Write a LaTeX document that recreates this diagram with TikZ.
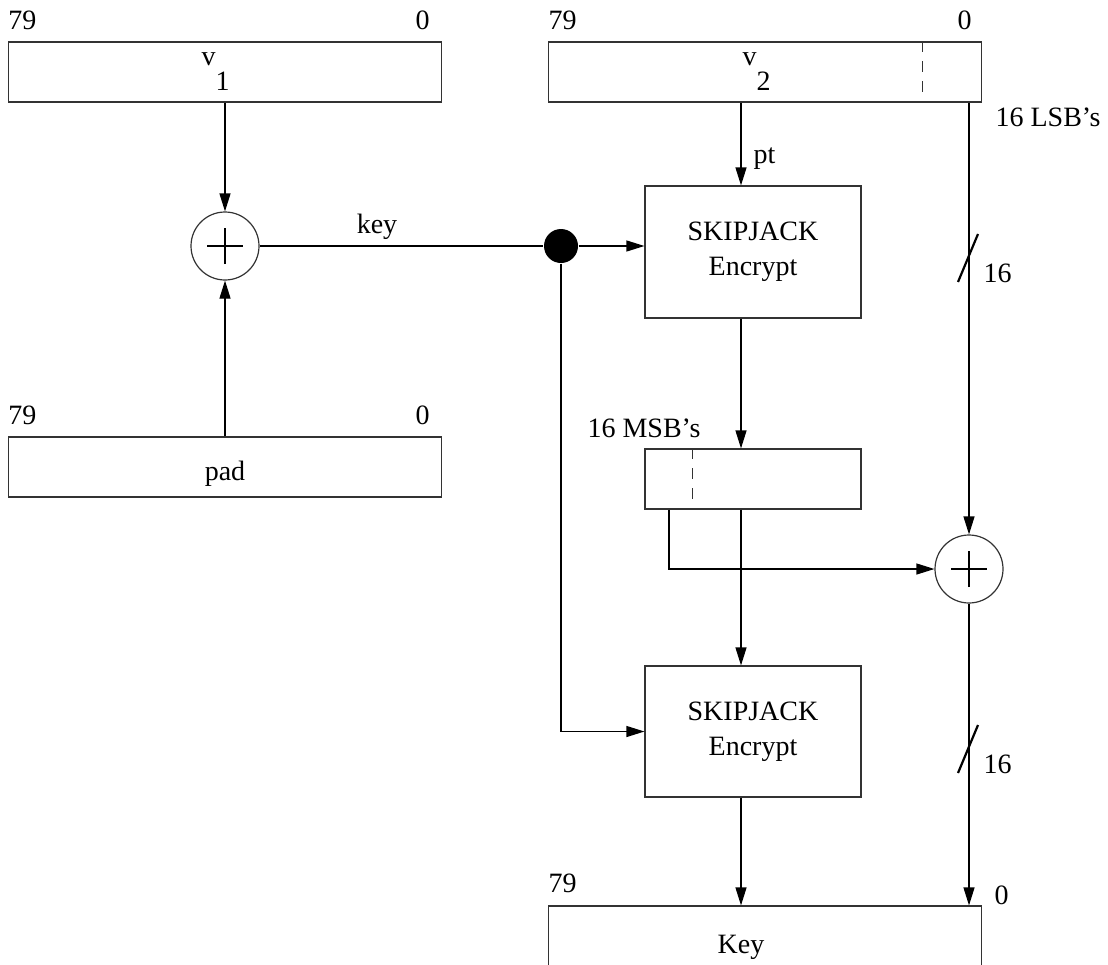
\documentclass[tikz,border=0pt]{standalone}
\usepackage{fontspec}
\setmainfont{Liberation Serif}
\usetikzlibrary{arrows.meta,positioning}

\begin{document}
\begin{tikzpicture}[
  x=1pt, y=-1pt,
  font=\fontsize{28}{35}\selectfont,
  line width=1.2pt,
  reg/.style={draw=black!80, minimum width=433pt, minimum height=60pt,
              inner sep=0pt},
  cipher/.style={draw=black!80, minimum width=216pt, minimum height=132pt,
                 align=center, inner sep=0pt},
  xorgate/.style={draw=black!80, circle, minimum size=68pt, inner sep=0pt,
                  path picture={
                    \draw[line width=2.8pt, black]
                      ([xshift=-18pt]path picture bounding box.center) --
                      ([xshift=18pt]path picture bounding box.center)
                      ([yshift=-18pt]path picture bounding box.center) --
                      ([yshift=18pt]path picture bounding box.center);}},
  bitnum/.style={inner sep=0pt},
  split/.style={draw=black!80, dash pattern=on 11pt off 9pt},
  slash/.style={draw=black, line width=2.2pt},
  >={Triangle[length=18pt,width=11pt]}
]
\useasboundingbox (0,0) rectangle (1108,964);
\clip (0,0) rectangle (1108,964);

%% --- registers ---
\node[reg] (v1) at (225,72) {};
\node[anchor=base west, inner sep=0pt] (v1txt) at (201,65) {v\raisebox{-25pt}{1}};
\node[bitnum, anchor=base west] (v1hi) at ([yshift=12pt]v1.north west) {79};
\node[bitnum, anchor=base east] (v1lo) at ([xshift=-12pt, yshift=12pt]v1.north east) {0};

\node[reg] (v2) at (765,72) {};
\node[anchor=base west, inner sep=0pt] (v2txt) at (742,65) {v\raisebox{-25pt}{2}};
\node[bitnum, anchor=base west] (v2hi) at ([yshift=12pt]v2.north west) {79};
\node[bitnum, anchor=base east] (v2lo) at ([xshift=-10pt, yshift=12pt]v2.north east) {0};
\draw[split] ([xshift=-60pt]v2.north east) -- ([xshift=-60pt]v2.south east);

\node[reg] (pad) at (225,467) {};
\node[anchor=base, inner sep=0pt] (padtxt) at (225,480) {pad};
\node[bitnum, anchor=base west] (padhi) at ([yshift=12pt]pad.north west) {79};
\node[bitnum, anchor=base east] (padlo) at ([xshift=-12pt, yshift=12pt]pad.north east) {0};

\node[reg] (key) at (765,936) {};
\node[anchor=base, inner sep=0pt] (keytxt) at (741,953) {Key};
\node[bitnum, anchor=base west] (keyhi) at ([yshift=13pt]key.north west) {79};
\node[bitnum, anchor=base west] (keylo) at ([xshift=12pt, yshift=1pt]key.north east) {0};

%% --- key mixing ---
\node[xorgate] (xor1) at (225,246) {};
\node[circle, fill=black, minimum size=34pt, inner sep=0pt] (tap) at (561,246) {};
\draw[->] (v1) -- (xor1);
\draw[->] (pad) -- (xor1);
\draw (xor1) -- (tap);
\node[anchor=base, inner sep=0pt] (keylbl) at (377,233) {key};

%% --- SKIPJACK stages ---
\node[cipher] (sj1) at (753,252) {SKIPJACK\\Encrypt};
\node[reg, minimum width=216pt] (msb) at (753,479) {};
\draw[split] ([xshift=48pt]msb.north west) -- ([xshift=48pt]msb.south west);
\node[bitnum, anchor=base west] (msblbl) at (587,437) {16 MSB's};
\node[cipher, minimum height=131pt] (sj2) at (753,731.5) {SKIPJACK\\Encrypt};

\coordinate (mid) at (741,0);
\draw[->] (mid |- v2.south) -- (mid |- sj1.north);
\node[bitnum, anchor=base west] (ptlbl) at (753,163) {pt};
\draw[->] (tap) -- (tap -| sj1.west);
\draw[->] (tap) |- (sj2.west);
\draw[->] (mid |- sj1.south) -- (mid |- msb.north);
\draw[->] (mid |- msb.south) -- (mid |- sj2.north);
\draw[->] (mid |- sj2.south) -- (mid |- key.north);

%% --- 16 bit branch ---
\node[xorgate] (xor2) at (969,569) {};
\coordinate (lsb) at (969,0);
\coordinate (msbtap) at (669,0);
\node[bitnum, anchor=base west] (lsblbl) at (995,126) {16 LSB's};
\draw[->] (lsb |- v2.south) -- (xor2);
\draw[->] (msbtap |- msb.south) |- (xor2);
\draw[->] (xor2) -- (xor2 |- key.north);
\draw[slash] (958,282) -- (978,234);
\node[bitnum, anchor=base west] (w1) at (983,282) {16};
\draw[slash] (958,773) -- (978,725);
\node[bitnum, anchor=base west] (w2) at (983,773) {16};
\end{tikzpicture}
\end{document}
